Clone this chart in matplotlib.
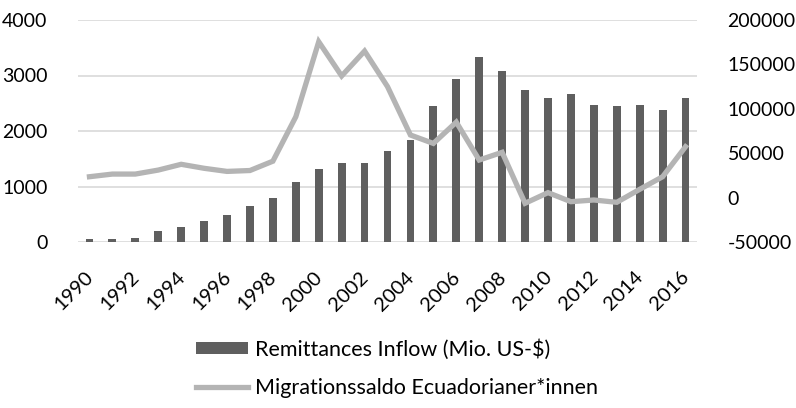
import numpy as np
import matplotlib.pyplot as plt
import matplotlib.transforms as mtransforms

plt.rcParams['font.family'] = ['Lato', 'DejaVu Sans']

years = list(range(1990, 2017))
remittances = [50, 60, 75, 200, 270, 385, 480, 645, 795, 1080, 1320, 1420, 1432, 1637,
               1835, 2455, 2930, 3335, 3083, 2736, 2591, 2672, 2467, 2450, 2462, 2378, 2602]
migration = [23500, 26500, 26500, 31000, 37500, 33000, 29500, 30500, 41000, 91000,
             175500, 137000, 165000, 125000, 70500, 61000, 85000, 42300, 51000, -6400,
             5600, -4600, -2700, -5300, 9300, 23500, 57300]
tick_labels = [str(y) if (y - 1990) % 2 == 0 else "" for y in years]

bar_color = "#5f5f5f"
line_color = "#b4b4b4"
grid_color = "#d9d9d9"

fig = plt.figure(figsize=(7.96, 4.08), dpi=100)
ax = fig.add_axes([78/796, 1 - 242/408, (697-78)/796, (242-20)/408])
x = np.arange(len(years))

ax.bar(x, remittances, width=0.34, color=bar_color, label="Remittances Inflow (Mio. US-$)", zorder=2)
ax.set_ylim(0, 4000)
ax.set_yticks([0, 1000, 2000, 3000, 4000])
ax.set_xlim(-0.5, len(years) - 0.5)
ax.yaxis.grid(True, color=grid_color, linewidth=1.2, zorder=0)
ax.set_axisbelow(True)
ax.set_xticks(x)
ax.set_xticklabels(tick_labels, rotation=45, ha="right", rotation_mode="anchor")
ax.tick_params(axis="x", length=0, pad=19, labelsize=14.5)
ax.tick_params(axis="y", length=0, pad=22, labelsize=14)
# nudge rotated year labels a little to the left
shift = mtransforms.ScaledTranslation(-5/100, 0, fig.dpi_scale_trans)
for lbl in ax.get_xticklabels():
    lbl.set_transform(lbl.get_transform() + shift)
for s in ax.spines.values():
    s.set_visible(False)

ax2 = ax.twinx()
ax2.plot(x, migration, color=line_color, linewidth=3.8, solid_joinstyle="miter",
         label="Migrationssaldo Ecuadorianer*innen", zorder=3)
ax2.set_ylim(-50000, 200000)
ax2.set_yticks([-50000, 0, 50000, 100000, 150000, 200000])
ax2.set_yticklabels(["-50000", "0", "50000", "100000", "150000", "200000"])
ax2.tick_params(axis="y", length=0, pad=22, labelsize=14)
for s in ax2.spines.values():
    s.set_visible(False)

h1, l1 = ax.get_legend_handles_labels()
h2, l2 = ax2.get_legend_handles_labels()
fig.legend(h1 + h2, l1 + l2, loc="upper left", bbox_to_anchor=(196/796, 1 - 339/408),
           ncol=1, frameon=False, fontsize=15.5, handlelength=2.4, handleheight=0.5,
           handletextpad=0.33, labelspacing=0.85, borderpad=0, borderaxespad=0)

fig.savefig("out.png", dpi=100)
